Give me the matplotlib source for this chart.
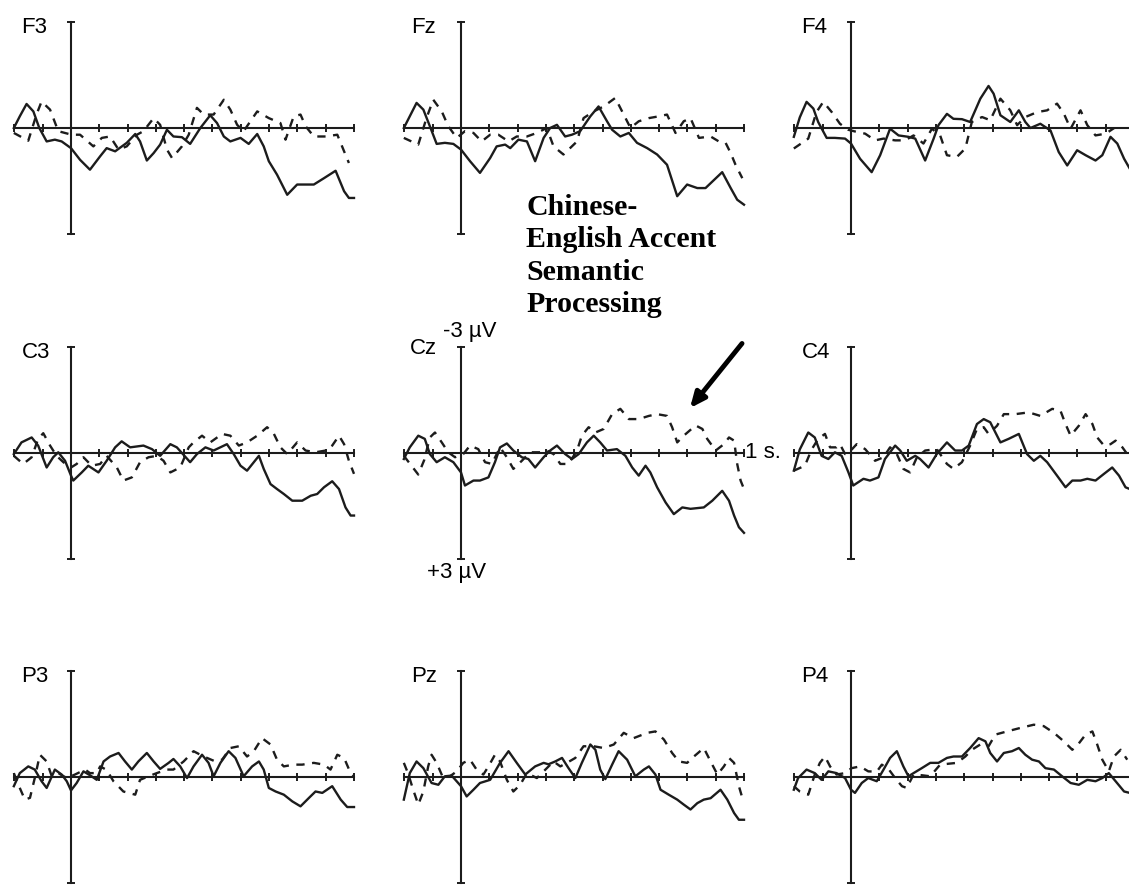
import numpy as np
import matplotlib
matplotlib.use("Agg")
import matplotlib.pyplot as plt

# ERP waveforms, (time in ms, amplitude in uV); negative is plotted up
f3_solid = [(-202, 0.0), (-181, -0.33), (-157, -0.68), (-133, -0.47), (-112, 0.0), (-86, 0.38), (-57, 0.33),
            (-33, 0.38), (0, 0.57), (32, 0.9), (67, 1.18), (103, 0.8), (126, 0.57), (156, 0.66), (197, 0.42),
            (227, 0.17), (244, 0.38), (268, 0.92), (292, 0.71), (315, 0.47), (339, 0.05), (362, 0.24),
            (392, 0.26), (421, 0.45), (457, 0.0), (492, -0.36), (516, -0.14), (540, 0.24), (563, 0.38),
            (599, 0.28), (628, 0.45), (658, 0.17), (681, 0.52), (699, 0.94), (728, 1.32), (764, 1.89),
            (799, 1.6), (858, 1.6), (894, 1.42), (935, 1.21), (965, 1.79), (982, 1.98), (1000, 1.98)]
f3_dash = [(-202, 0.14), (-151, 0.36), (-122, -0.38), (-104, -0.75), (-74, -0.52), (-45, 0.09), (2, 0.19),
           (32, 0.19), (79, 0.52), (109, 0.28), (138, 0.24), (168, 0.61), (197, 0.52), (233, 0.19),
           (256, 0.09), (292, -0.28), (315, -0.09), (339, 0.61), (357, 0.85), (392, 0.52), (416, 0.19),
           (445, -0.57), (469, -0.38), (504, -0.38), (540, -0.8), (563, -0.52), (587, -0.09), (610, 0.09),
           (658, -0.47), (699, -0.28), (740, -0.14), (758, 0.33), (787, -0.33), (811, -0.38), (829, -0.05),
           (858, 0.24), (900, 0.24), (941, 0.19), (965, 0.66), (982, 0.99)]

fz_solid = [(-202, 0.0), (-157, -0.71), (-133, -0.52), (-110, -0.05), (-86, 0.45), (-57, 0.42), (-27, 0.45),
            (0, 0.61), (32, 0.94), (67, 1.27), (103, 0.85), (126, 0.52), (156, 0.47), (174, 0.57), (203, 0.33),
            (233, 0.38), (262, 0.94), (292, 0.28), (315, 0.0), (339, -0.09), (368, 0.24), (392, 0.19),
            (421, 0.09), (457, -0.33), (486, -0.61), (516, -0.19), (534, 0.05), (563, 0.24), (593, 0.14),
            (622, 0.42), (658, 0.57), (693, 0.75), (728, 1.04), (764, 1.93), (799, 1.6), (835, 1.7),
            (864, 1.7), (923, 1.25), (953, 1.7), (976, 2.03), (1000, 2.17)]
fz_dash = [(-202, 0.28), (-151, 0.47), (-122, -0.28), (-98, -0.8), (-68, -0.47), (-45, -0.05), (-15, 0.28),
           (14, 0.09), (44, 0.14), (73, 0.38), (103, 0.19), (132, 0.19), (168, 0.38), (197, 0.24), (233, 0.24),
           (268, 0.14), (303, 0.0), (327, 0.52), (362, 0.75), (410, 0.38), (433, -0.28), (469, -0.47),
           (504, -0.61), (545, -0.85), (575, -0.38), (599, 0.0), (628, -0.19), (664, -0.28), (699, -0.33),
           (728, -0.38), (758, 0.14), (787, -0.19), (811, -0.28), (841, 0.28), (882, 0.24), (911, 0.38),
           (935, 0.42), (953, 0.71), (970, 1.04), (994, 1.42)]

f4_solid = [(-202, 0.25), (-181, -0.3), (-157, -0.74), (-133, -0.55), (-116, -0.17), (-86, 0.28), (-57, 0.28),
            (-21, 0.3), (0, 0.44), (32, 0.87), (73, 1.25), (103, 0.77), (138, 0.02), (168, 0.21), (203, 0.25),
            (227, 0.3), (262, 0.92), (292, 0.3), (309, -0.08), (339, -0.4), (362, -0.26), (392, -0.25),
            (421, -0.17), (457, -0.83), (486, -1.19), (504, -0.97), (528, -0.36), (563, -0.17), (593, -0.5),
            (616, -0.17), (634, 0.0), (669, -0.12), (705, 0.07), (734, 0.68), (764, 1.06), (799, 0.63),
            (829, 0.77), (864, 0.92), (888, 0.77), (917, 0.25), (941, 0.44), (965, 0.87), (985, 1.15),
            (1000, 1.3)]
f4_dash = [(-202, 0.58), (-151, 0.3), (-122, -0.45), (-98, -0.74), (-68, -0.45), (-39, -0.12), (-10, 0.05),
           (20, 0.11), (50, 0.16), (85, 0.35), (115, 0.3), (156, 0.35), (191, 0.35), (221, 0.21), (256, 0.44),
           (286, 0.02), (315, 0.21), (339, 0.77), (374, 0.82), (404, 0.58), (427, -0.17), (463, -0.31),
           (492, -0.22), (528, -0.83), (563, -0.5), (587, -0.08), (616, -0.31), (658, -0.45), (693, -0.5),
           (728, -0.69), (752, -0.41), (776, 0.02), (811, -0.5), (835, -0.08), (864, 0.21), (900, 0.16),
           (930, 0.0)]

c3_solid = [(-202, 0.03), (-175, -0.3), (-139, -0.44), (-116, -0.21), (-86, 0.41), (-63, 0.12), (-45, -0.02),
            (-21, 0.22), (0, 0.64), (8, 0.78), (38, 0.55), (61, 0.36), (97, 0.55), (126, 0.22), (156, -0.16),
            (179, -0.33), (209, -0.16), (256, -0.21), (286, -0.11), (315, 0.08), (351, -0.25), (374, -0.16),
            (421, 0.26), (445, 0.03), (475, -0.16), (504, -0.07), (551, -0.25), (575, 0.03), (599, 0.36),
            (622, 0.5), (646, 0.26), (664, 0.08), (681, 0.45), (705, 0.88), (728, 1.02), (752, 1.16),
            (782, 1.35), (817, 1.35), (847, 1.21), (870, 1.16), (894, 0.97), (923, 0.8), (947, 1.02),
            (970, 1.54), (988, 1.77), (1000, 1.77)]
c3_dash = [(-202, 0.08), (-169, 0.31), (-139, 0.12), (-116, -0.4), (-98, -0.56), (-74, -0.21), (-51, 0.08),
           (-27, 0.26), (0, 0.41), (20, 0.31), (44, 0.12), (73, 0.36), (103, 0.31), (126, 0.08), (162, 0.41),
           (185, 0.78), (215, 0.69), (244, 0.26), (274, 0.12), (303, 0.08), (327, 0.22), (351, 0.55),
           (386, 0.41), (416, -0.16), (433, -0.3), (463, -0.49), (492, -0.3), (534, -0.54), (563, -0.49),
           (593, -0.21), (622, -0.3), (658, -0.49), (693, -0.73), (717, -0.54), (740, -0.16), (764, 0.03),
           (799, -0.3), (829, -0.07), (864, -0.02), (900, -0.07), (923, -0.21), (947, -0.49), (965, -0.25),
           (982, 0.22), (1000, 0.59)]

cz_solid = [(-202, 0.17), (-181, -0.16), (-151, -0.49), (-128, -0.4), (-110, 0.03), (-86, 0.26), (-57, 0.12),
            (-27, 0.26), (0, 0.55), (14, 0.92), (44, 0.78), (67, 0.78), (97, 0.69), (120, 0.26), (138, -0.16),
            (162, -0.27), (185, -0.07), (215, 0.12), (238, 0.17), (262, 0.41), (292, 0.12), (315, -0.07),
            (339, -0.21), (368, 0.03), (392, 0.17), (416, 0.03), (445, -0.3), (469, -0.49), (492, -0.3),
            (516, -0.07), (551, -0.11), (581, 0.08), (605, 0.41), (628, 0.64), (652, 0.36), (669, 0.55),
            (693, 0.97), (723, 1.4), (752, 1.73), (782, 1.54), (811, 1.58), (858, 1.54), (888, 1.35),
            (923, 1.07), (947, 1.35), (965, 1.77), (982, 2.1), (1000, 2.26)]
cz_dash = [(-202, 0.08), (-175, 0.36), (-151, 0.61), (-130, 0.2), (-110, -0.44), (-92, -0.58), (-68, -0.3),
           (-45, -0.02), (-21, 0.12), (8, 0.03), (32, -0.21), (61, -0.11), (85, 0.26), (109, 0.31),
           (138, -0.16), (162, 0.12), (185, 0.45), (215, 0.22), (244, -0.02), (280, -0.02), (303, -0.07),
           (327, 0.03), (351, 0.31), (380, 0.31), (410, -0.07), (427, -0.49), (451, -0.73), (475, -0.58),
           (504, -0.68), (534, -1.1), (563, -1.25), (593, -0.96), (628, -0.96), (664, -1.05), (693, -1.1),
           (728, -1.05), (746, -0.73), (764, -0.3), (787, -0.49), (829, -0.78), (853, -0.68), (870, -0.4),
           (900, -0.07), (929, -0.25), (947, -0.44), (965, -0.35), (976, 0.31), (988, 0.78), (1000, 1.02)]

c4_solid = [(-202, 0.5), (-181, -0.1), (-151, -0.58), (-128, -0.44), (-104, 0.08), (-80, 0.17), (-57, -0.02),
            (-33, 0.08), (-9, 0.55), (8, 0.92), (44, 0.73), (67, 0.78), (97, 0.69), (120, 0.17), (156, -0.21),
            (174, -0.07), (197, 0.22), (227, 0.08), (244, 0.17), (274, 0.41), (303, 0.03), (339, -0.3),
            (368, -0.07), (392, -0.07), (416, -0.21), (445, -0.82), (469, -0.96), (492, -0.87), (528, -0.3),
            (557, -0.4), (593, -0.54), (622, 0.03), (646, 0.22), (669, 0.08), (693, 0.26), (728, 0.64),
            (758, 0.97), (782, 0.78), (811, 0.78), (835, 0.73), (864, 0.78), (894, 0.59), (923, 0.41),
            (947, 0.64), (970, 0.97), (985, 1.02), (1000, 1.0)]
c4_dash = [(-202, 0.5), (-163, 0.36), (-139, -0.1), (-116, -0.4), (-92, -0.54), (-74, -0.16), (-51, -0.16),
           (-39, -0.25), (-21, 0.03), (-3, -0.05), (20, -0.25), (50, -0.11), (85, 0.22), (115, 0.12),
           (138, -0.16), (162, 0.03), (185, 0.45), (209, 0.55), (233, 0.12), (262, -0.07), (303, -0.11),
           (339, 0.31), (362, 0.45), (392, 0.26), (421, -0.21), (445, -0.68), (469, -0.73), (486, -0.54),
           (516, -0.77), (540, -1.1), (581, -1.1), (628, -1.15), (669, -1.05), (711, -1.25), (740, -1.2),
           (758, -0.82), (776, -0.49), (805, -0.77), (829, -1.1), (853, -0.82), (870, -0.44), (894, -0.21),
           (917, -0.25), (935, -0.35), (959, -0.16), (976, 0.03)]

p3_solid = [(-202, 0.26), (-181, -0.11), (-151, -0.3), (-128, -0.21), (-104, 0.12), (-86, 0.31), (-57, -0.21),
            (-33, -0.07), (-15, 0.12), (0, 0.38), (20, 0.17), (44, -0.16), (67, -0.05), (91, 0.08),
            (115, -0.44), (138, -0.58), (168, -0.68), (191, -0.44), (215, -0.21), (238, -0.44), (268, -0.68),
            (292, -0.44), (315, -0.23), (345, -0.4), (362, -0.51), (386, -0.3), (410, 0.03), (433, -0.3),
            (463, -0.63), (486, -0.4), (504, -0.02), (528, -0.4), (557, -0.73), (581, -0.54), (610, -0.02),
            (640, -0.3), (664, -0.44), (681, -0.21), (699, 0.31), (723, 0.41), (752, 0.5), (782, 0.69),
            (811, 0.83), (841, 0.59), (864, 0.41), (888, 0.45), (923, 0.26), (953, 0.64), (976, 0.85),
            (1000, 0.85)]
p3_dash = [(-202, -0.11), (-187, 0.2), (-163, 0.64), (-145, 0.59), (-128, 0.03), (-110, -0.63), (-86, -0.44),
           (-68, -0.02), (-45, -0.11), (-15, 0.03), (14, -0.07), (50, -0.21), (67, -0.11), (91, -0.11),
           (103, -0.3), (126, -0.2), (150, 0.12), (185, 0.41), (227, 0.5), (244, 0.08), (274, -0.02),
           (303, -0.11), (339, -0.21), (362, -0.21), (398, -0.44), (433, -0.73), (469, -0.58), (510, -0.44),
           (534, -0.49), (563, -0.82), (593, -0.87), (622, -0.58), (646, -0.73), (675, -1.1), (705, -0.92),
           (728, -0.49), (752, -0.3), (787, -0.35), (817, -0.35), (858, -0.4), (894, -0.35), (917, -0.21),
           (941, -0.63), (965, -0.54), (988, -0.11), (1000, -0.02)]

pz_solid = [(-202, 0.64), (-181, -0.11), (-157, -0.44), (-133, -0.25), (-104, 0.17), (-80, 0.22), (-57, -0.02),
            (-33, -0.04), (0, 0.26), (20, 0.55), (44, 0.36), (67, 0.17), (103, 0.08), (138, -0.4),
            (168, -0.73), (197, -0.4), (227, -0.07), (262, -0.3), (292, -0.4), (309, -0.36), (333, -0.44),
            (357, -0.54), (380, -0.25), (404, 0.03), (427, -0.4), (457, -0.92), (475, -0.77), (492, -0.21),
            (510, 0.06), (534, -0.35), (557, -0.73), (587, -0.49), (616, -0.02), (646, -0.21), (664, -0.3),
            (687, -0.07), (705, 0.36), (734, 0.5), (764, 0.64), (787, 0.78), (811, 0.92), (835, 0.74),
            (858, 0.64), (882, 0.6), (917, 0.36), (941, 0.64), (965, 1.02), (982, 1.21), (1000, 1.21)]
pz_dash = [(-202, -0.4), (-187, -0.1), (-169, 0.36), (-151, 0.78), (-133, 0.41), (-116, -0.3), (-104, -0.63),
           (-86, -0.4), (-63, 0.03), (-39, -0.02), (-15, -0.16), (8, -0.4), (32, -0.49), (55, -0.21),
           (79, -0.07), (97, -0.3), (120, -0.63), (138, -0.44), (162, 0.08), (185, 0.41), (209, 0.22),
           (233, -0.11), (268, 0.03), (292, -0.16), (327, -0.44), (351, -0.3), (374, -0.4), (404, -0.54),
           (433, -0.87), (469, -0.87), (504, -0.82), (540, -0.92), (575, -1.25), (610, -1.1), (658, -1.25),
           (687, -1.29), (717, -1.06), (746, -0.68), (770, -0.44), (799, -0.4), (823, -0.58), (858, -0.82),
           (882, -0.44), (906, -0.07), (929, -0.3), (947, -0.54), (965, -0.4), (982, 0.26), (994, 0.59)]

p4_solid = [(-202, 0.36), (-187, 0.03), (-157, -0.21), (-128, -0.11), (-104, 0.08), (-80, -0.16), (-51, -0.11),
            (-21, 0.03), (0, 0.36), (14, 0.45), (38, 0.17), (61, 0.03), (91, 0.12), (115, -0.21),
            (138, -0.54), (162, -0.73), (185, -0.3), (203, -0.02), (221, -0.11), (250, -0.25), (280, -0.4),
            (309, -0.4), (339, -0.54), (362, -0.58), (392, -0.58), (421, -0.82), (451, -1.1), (475, -1.01),
            (492, -0.68), (516, -0.44), (540, -0.68), (569, -0.73), (593, -0.82), (616, -0.63), (640, -0.49),
            (664, -0.44), (687, -0.25), (717, -0.21), (746, -0.02), (776, 0.17), (805, 0.22), (835, 0.08),
            (864, 0.12), (888, 0.03), (911, -0.11), (935, 0.12), (965, 0.41), (985, 0.45), (1000, 0.4)]
p4_dash = [(-202, 0.26), (-181, 0.41), (-151, 0.5), (-128, -0.07), (-110, -0.4), (-92, -0.58), (-74, -0.3),
           (-51, -0.07), (-21, -0.11), (2, -0.25), (32, -0.3), (61, -0.16), (91, -0.15), (109, -0.35),
           (135, -0.2), (156, 0.03), (180, 0.26), (197, 0.31), (221, -0.07), (250, -0.05), (280, -0.02),
           (315, -0.35), (350, -0.38), (374, -0.4), (404, -0.58), (427, -0.77), (457, -0.92), (486, -0.87),
           (510, -1.2), (551, -1.29), (599, -1.39), (646, -1.48), (681, -1.44), (717, -1.25), (752, -1.01),
           (782, -0.77), (805, -0.95), (829, -1.2), (853, -1.29), (870, -0.92), (888, -0.49), (911, -0.16),
           (929, -0.58), (953, -0.77), (976, -0.49)]

labels = ["F3", "Fz", "F4", "C3", "Cz", "C4", "P3", "Pz", "P4"]
solid = [f3_solid, fz_solid, f4_solid, c3_solid, cz_solid, c4_solid, p3_solid, pz_solid, p4_solid]
dashed = [f3_dash, fz_dash, f4_dash, c3_dash, cz_dash, c4_dash, p3_dash, pz_dash, p4_dash]
xticks = list(range(-200, 1001, 100))

W, H = 1129, 888
fig = plt.figure(figsize=(W / 100, H / 100), dpi=100)
fig.patch.set_facecolor("white")

col_zero = [71, 461, 851]      # pixel x of the 0 ms line
row_top = [22, 347, 671]       # pixel y of -3 uV
px_per_ms = 0.283
px_h = 212

ink = "#1c1c1c"
for i, name in enumerate(labels):
    r, c = divmod(i, 3)
    left = col_zero[c] - 200 * px_per_ms
    width = 1200 * px_per_ms
    bottom = H - (row_top[r] + px_h)
    ax = fig.add_axes([left / W, bottom / H, width / W, px_h / H])
    ax.set_xlim(-200, 1000)
    ax.set_ylim(3, -3)
    ax.patch.set_visible(False)

    for side in ["top", "right"]:
        ax.spines[side].set_visible(False)
    ax.spines["left"].set_position(("data", 0))
    ax.spines["bottom"].set_position(("data", 0))
    for side in ["left", "bottom"]:
        ax.spines[side].set_linewidth(1.5)
        ax.spines[side].set_color(ink)
    ax.set_xticks(xticks)
    ax.set_yticks([-3, 3])
    ax.tick_params(direction="inout", length=6, width=1.4, color=ink,
                   labelbottom=False, labelleft=False)

    t, v = np.array(solid[i]).T
    ax.plot(t, v, color=ink, lw=1.7, clip_on=False, solid_joinstyle="round")
    t, v = np.array(dashed[i]).T
    ax.plot(t, v, color=ink, lw=1.7, dashes=(3.5, 3.2), clip_on=False)

    if name == "Cz":
        ax.text(-180, -2.95, name, fontsize=16, family="Liberation Sans", ha="left", va="center")
        ax.text(-64, -3.45, "-3 µV", fontsize=16, family="Liberation Sans", ha="left", va="center")
        ax.text(-120, 3.37, "+3 µV", fontsize=16, family="Liberation Sans", ha="left", va="center")
        ax.text(1003, 0, "1 s.", fontsize=16, family="Liberation Sans", ha="left", va="center")
        ax.annotate("", xy=(809, -1.27), xytext=(993, -3.1), annotation_clip=False,
                    arrowprops=dict(arrowstyle="-|>,head_length=0.9,head_width=0.4",
                                    color="black", lw=3.5, shrinkA=0, shrinkB=0))
    else:
        ax.text(-175, -2.85, name, fontsize=16, family="Liberation Sans", ha="left", va="center")

fig.text(526 / W, 1 - 194 / H, "Chinese-\nEnglish Accent\nSemantic\nProcessing",
         fontsize=21.5, fontweight="bold", family="Liberation Serif", ha="left", va="top",
         linespacing=1.26)

fig.savefig("out.png", dpi=100, facecolor="white")
